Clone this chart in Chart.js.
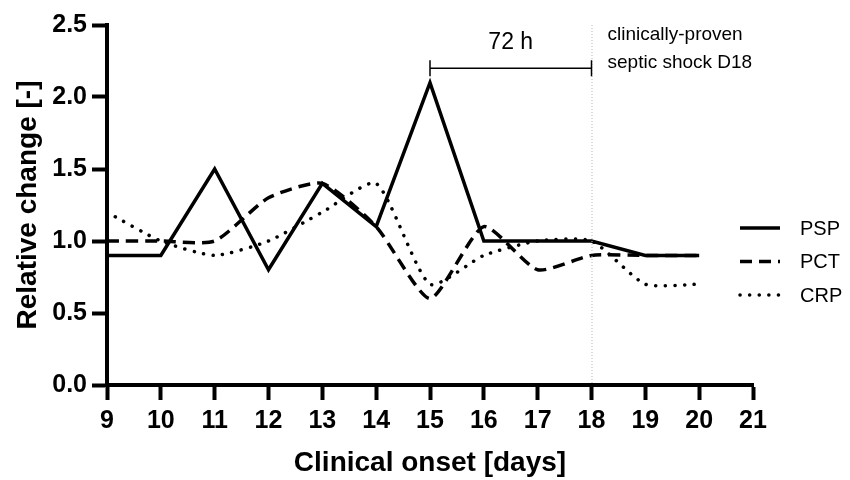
<!DOCTYPE html>
<html>
<head>
<meta charset="utf-8">
<script src="https://cdn.jsdelivr.net/npm/chart.js@4.4.1/dist/chart.umd.min.js"></script>
<style>
    html, body { margin: 0; padding: 0; background: #fff; }
    #wrap { width: 850px; height: 480px; }
</style>
</head>
<body>
<div id="wrap"><canvas id="grafico"></canvas></div>
<script>
const dias = [9, 10, 11, 12, 13, 14, 15, 16, 17, 18, 19, 20];
const psp = [0.9, 0.9, 1.5, 0.8, 1.4, 1.1, 2.1, 1.0, 1.0, 1.0, 0.9, 0.9];
const pct = [1.0, 1.0, 1.0, 1.3, 1.4, 1.1, 0.6, 1.1, 0.8, 0.9, 0.9, 0.9];
const crp = [1.2, 1.0, 0.9, 1.0, 1.2, 1.4, 0.7, 0.9, 1.0, 1.0, 0.7, 0.7];
const yTicks = [0, 0.5, 1.0, 1.5, 2.0, 2.5];
const xTicks = [9, 10, 11, 12, 13, 14, 15, 16, 17, 18, 19, 20, 21];

const fonte = 'Liberation Sans, Arial, sans-serif';

const pares = (ys) => dias.map((d, i) => ({ x: d, y: ys[i] }));

// linha pontilhada no D18, colchete de 72 h e texto
const anotacoes = {
    id: 'anotacoes',
    afterDatasetsDraw(chart) {
        const { ctx, chartArea, scales: { x, y } } = chart;
        ctx.save();

        ctx.strokeStyle = '#b5b5b5';
        ctx.lineWidth = 1;
        ctx.setLineDash([1, 2]);
        ctx.beginPath();
        ctx.moveTo(x.getPixelForValue(18) + 0.5, chartArea.top);
        ctx.lineTo(x.getPixelForValue(18) + 0.5, chartArea.bottom);
        ctx.stroke();
        ctx.setLineDash([]);

        const x1 = x.getPixelForValue(15);
        const x2 = x.getPixelForValue(18);
        const yb = y.getPixelForValue(2.2);
        ctx.strokeStyle = '#000';
        ctx.lineWidth = 1.5;
        ctx.beginPath();
        ctx.moveTo(x1, yb); ctx.lineTo(x2, yb);
        ctx.moveTo(x1, yb - 8); ctx.lineTo(x1, yb + 8);
        ctx.moveTo(x2, yb - 8); ctx.lineTo(x2, yb + 8);
        ctx.stroke();

        ctx.fillStyle = '#000';
        ctx.textBaseline = 'middle';
        ctx.textAlign = 'center';
        ctx.font = '23px ' + fonte;
        ctx.fillText('72 h', (x1 + x2) / 2, y.getPixelForValue(2.38));

        ctx.textAlign = 'left';
        ctx.font = '19px ' + fonte;
        ctx.fillText('clinically-proven', x2 + 16, y.getPixelForValue(2.43));
        ctx.fillText('septic shock D18', x2 + 16, y.getPixelForValue(2.24));
        ctx.restore();
    }
};

// legenda desenhada à direita
const legenda = {
    id: 'legenda',
    afterDraw(chart) {
        const { ctx, chartArea } = chart;
        const x0 = chartArea.right - 13;
        let yy = 228;
        ctx.save();
        chart.data.datasets.forEach((ds) => {
            ctx.strokeStyle = '#000';
            ctx.lineWidth = ds.borderWidth;
            ctx.lineCap = ds.borderCapStyle || 'butt';
            ctx.setLineDash(ds.borderDash || []);
            ctx.beginPath();
            ctx.moveTo(x0, yy);
            ctx.lineTo(x0 + 40, yy);
            ctx.stroke();
            ctx.setLineDash([]);
            ctx.fillStyle = '#000';
            ctx.font = '20px ' + fonte;
            ctx.textBaseline = 'middle';
            ctx.textAlign = 'left';
            ctx.fillText(ds.label, x0 + 60, yy + 1);
            yy += 33.5;
        });
        ctx.restore();
    }
};

const data = {
    datasets: [{
        label: 'PSP',
        data: pares(psp),
        borderColor: '#000',
        borderWidth: 3.5,
        pointRadius: 0,
        tension: 0
    }, {
        label: 'PCT',
        data: pares(pct),
        borderColor: '#000',
        borderWidth: 3.5,
        borderDash: [12, 7],
        pointRadius: 0,
        tension: 0.2
    }, {
        label: 'CRP',
        data: pares(crp),
        borderColor: '#000',
        borderWidth: 3.5,
        borderDash: [0.1, 9.5],
        borderCapStyle: 'round',
        pointRadius: 0,
        tension: 0.2
    }]
};

const config = {
    type: 'line',
    data: data,
    options: {
        responsive: true,
        maintainAspectRatio: false,
        animation: false,
        layout: { padding: { top: 25, right: 97, left: 0, bottom: 0 } },
        scales: {
            x: {
                type: 'linear',
                min: 9,
                max: 21,
                afterBuildTicks: (scale) => { scale.ticks = xTicks.map(v => ({ value: v })); },
                afterFit: (scale) => { scale.height = 95; },
                grid: {
                    drawOnChartArea: false,
                    tickLength: 15,
                    tickWidth: 4,
                    tickColor: '#000'
                },
                border: { color: '#000', width: 4 },
                ticks: {
                    color: '#000',
                    padding: 6,
                    maxRotation: 0,
                    font: { size: 25, family: fonte, weight: 'bold' }
                },
                title: {
                    display: true,
                    text: 'Clinical onset [days]',
                    color: '#000',
                    padding: 0,
                    font: { size: 28, family: fonte, weight: 'bold' }
                }
            },
            y: {
                min: 0,
                max: 2.5,
                afterBuildTicks: (scale) => { scale.ticks = yTicks.map(v => ({ value: v })); },
                afterFit: (scale) => { scale.width = 107; },
                grid: {
                    drawOnChartArea: false,
                    tickLength: 15,
                    tickWidth: 4,
                    tickColor: '#000'
                },
                border: { color: '#000', width: 4 },
                ticks: {
                    color: '#000',
                    padding: 5,
                    callback: (v) => Number(v).toFixed(1),
                    font: { size: 25, family: fonte, weight: 'bold' }
                },
                title: {
                    display: true,
                    text: 'Relative change [-]',
                    color: '#000',
                    padding: { top: 11, bottom: 0 },
                    font: { size: 28, family: fonte, weight: 'bold' }
                }
            }
        },
        plugins: {
            legend: { display: false },
            tooltip: { enabled: false }
        }
    },
    plugins: [anotacoes, legenda]
};

new Chart(document.getElementById('grafico'), config);
</script>
</body>
</html>
